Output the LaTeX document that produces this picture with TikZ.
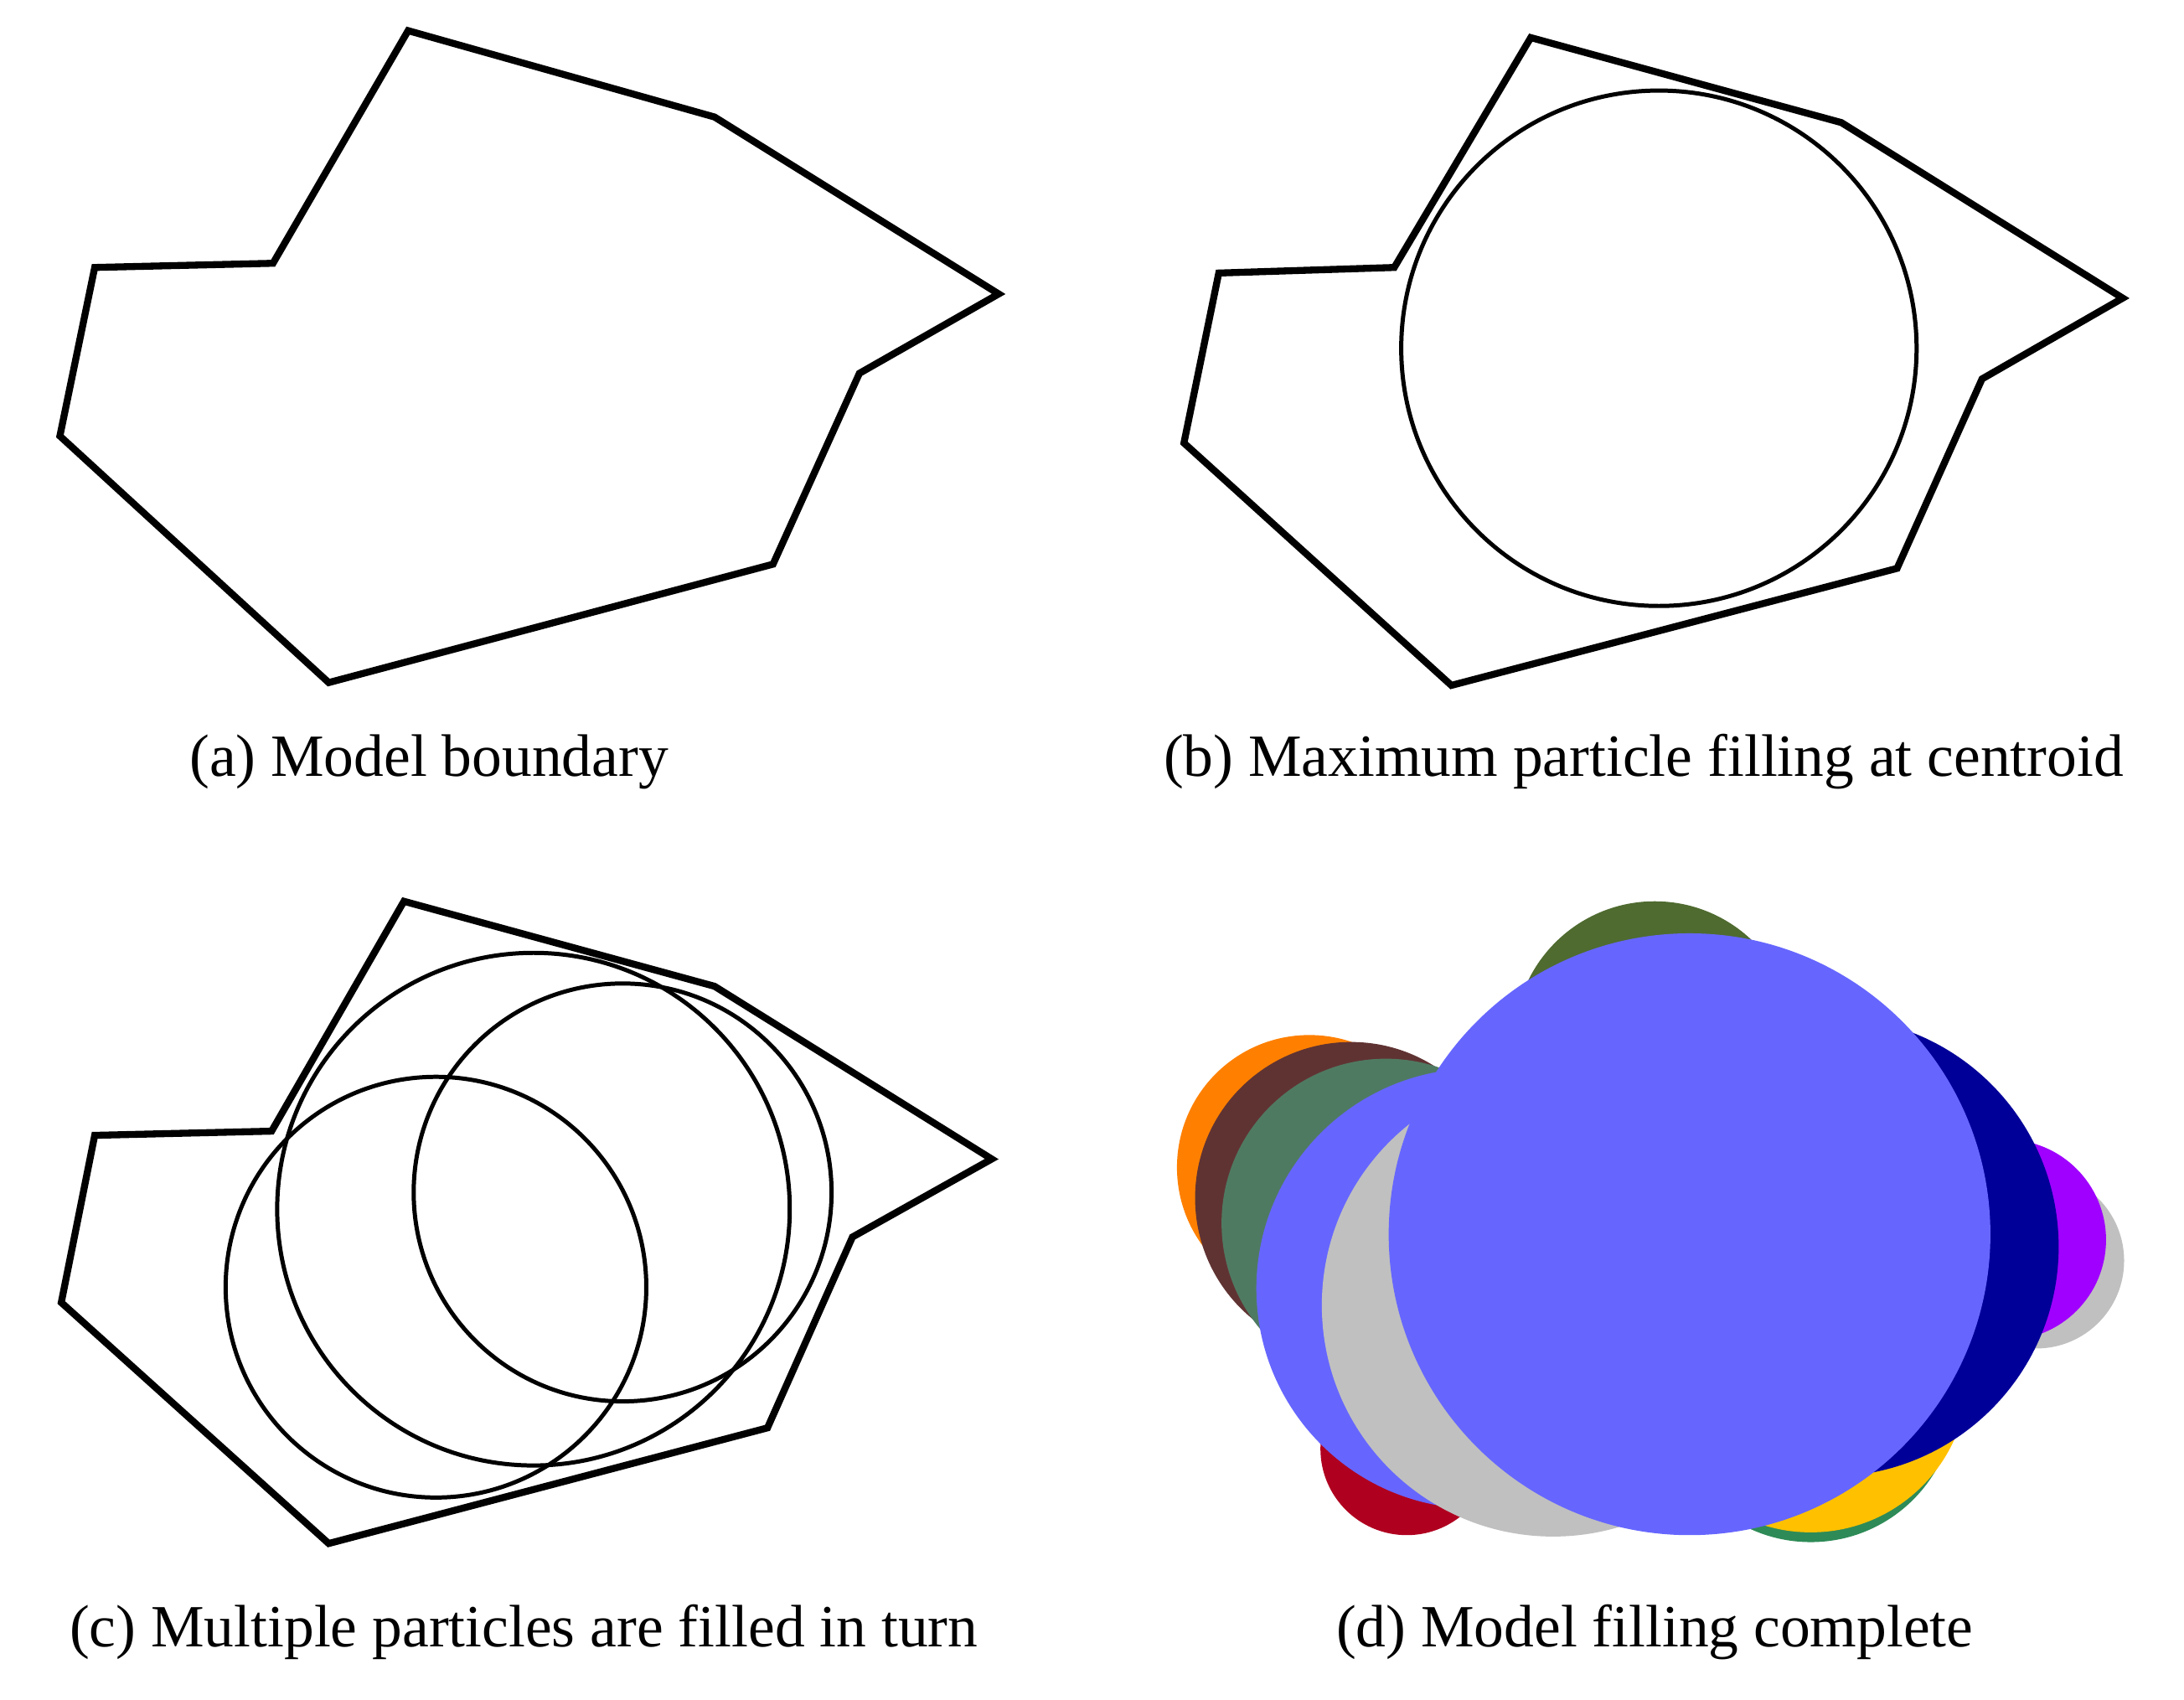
\documentclass[tikz,border=0pt]{standalone}
\usepackage{fontspec}
\setmainfont{Liberation Serif}
\begin{document}
\begin{tikzpicture}[x=1pt,y=-1pt,
  boundary/.style={line width=5pt,line join=miter},
  particle/.style={line width=3pt},
  caption/.style={anchor=base,inner sep=0pt,font=\fontsize{43}{50}\selectfont}]
\useasboundingbox (0,0) rectangle (1568,1220);
\definecolor{pblue}{HTML}{6666FF}
\definecolor{pgray}{HTML}{C0C0C0}
\definecolor{pnavy}{HTML}{000099}
\definecolor{ppurple}{HTML}{A000FF}
\definecolor{porange}{HTML}{FF8000}
\definecolor{pbrown}{HTML}{603333}
\definecolor{pgreengray}{HTML}{4F7A62}
\definecolor{pred}{HTML}{B00020}
\definecolor{polive}{HTML}{4F6B30}
\definecolor{pyellow}{HTML}{FFC000}
\definecolor{pgreen}{HTML}{2E8B57}

% (a)
\draw[boundary] (293,22) -- (513,84) -- (717,211) -- (617,268) -- (555,405) -- (236,490) -- (43,313) -- (68,192) -- (196,189) -- cycle;
\node[caption] (capa) at (308,557) {(a) Model boundary};

% (b)
\draw[boundary] (1099,27) -- (1322,88) -- (1524,214) -- (1423,272) -- (1362,408) -- (1042,492) -- (850,318) -- (875,196) -- (1001,192) -- cycle;
\draw[particle] (1191,250) circle[radius=185];
\node[caption] (capb) at (1180,557) {(b) Maximum particle filling at centroid};

% (c)
\draw[boundary] (290,647) -- (513,708) -- (712,832) -- (612,888) -- (551,1025) -- (236,1108) -- (44,935) -- (68,815) -- (195,812) -- cycle;
\draw[particle] (383,868) circle[radius=184];
\draw[particle] (447,856) circle[radius=150];
\draw[particle] (313,924) circle[radius=151];
\node[caption] (capc) at (376,1182) {(c) Multiple particles are filled in turn};

% (d)
\fill[pgray] (1462,905) circle[radius=63];
\fill[ppurple] (1440,890) circle[radius=72];
\fill[pgreen] (1300,1003) circle[radius=104];
\fill[pyellow] (1300,987) circle[radius=113];
\fill[pnavy] (1313,895) circle[radius=165];
\fill[polive] (1188,748) circle[radius=101];
\fill[pred] (1010,1040) circle[radius=62];
\fill[porange] (940,838) circle[radius=95];
\fill[pbrown] (970,860) circle[radius=112];
\fill[pgreengray] (995,878) circle[radius=118];
\fill[pblue] (1060,925) circle[radius=158];
\fill[pgray] (1115,937) circle[radius=166];
\fill[pblue] (1213,886) circle[radius=216];
\node[caption] (capd) at (1188,1182) {(d) Model filling complete};
\end{tikzpicture}
\end{document}
